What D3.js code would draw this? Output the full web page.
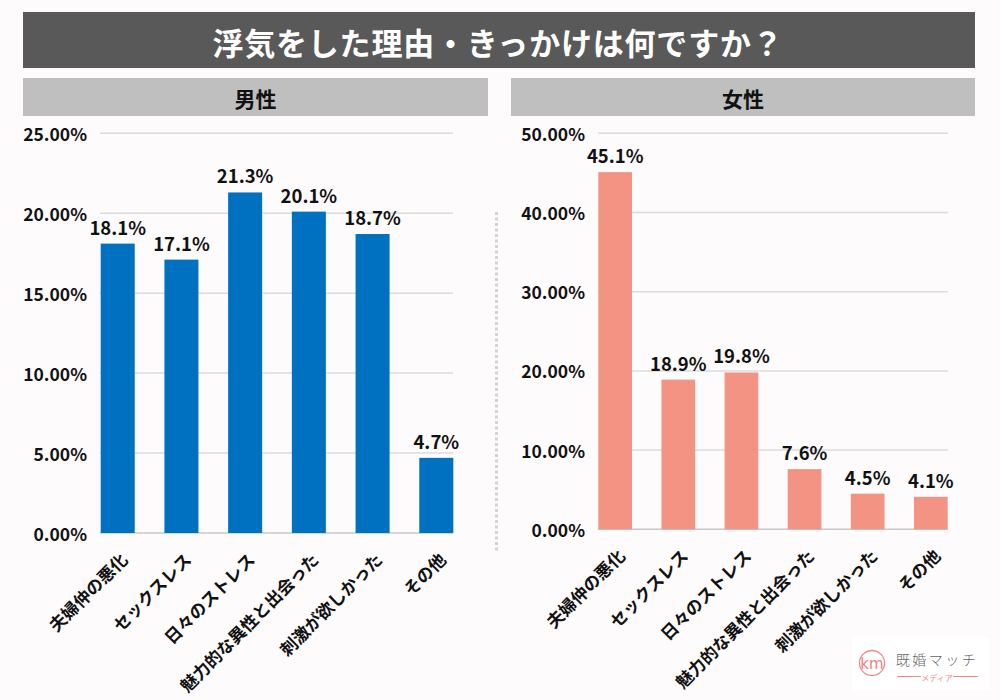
<!DOCTYPE html>
<html><head><meta charset="utf-8">
<script src="https://cdn.jsdelivr.net/npm/d3@7"></script>
<style>html,body{margin:0;padding:0;background:#fdfbfc;} svg{display:block;}</style>
</head><body>
<script>
const title = "浮気をした理由・きっかけは何ですか？";
const panelTitles = ["男性", "女性"];
const categories = ["夫婦仲の悪化","セックスレス","日々のストレス","魅力的な異性と出会った","刺激が欲しかった","その他"];
const maleValues = [18.1, 17.1, 21.3, 20.1, 18.7, 4.7];
const femaleValues = [45.1, 18.9, 19.8, 7.6, 4.5, 4.1];
const maleTicks = [0, 5, 10, 15, 20, 25];
const femaleTicks = [0, 10, 20, 30, 40, 50];

const W = 1000, H = 700;
const FONT = "'Noto Sans CJK JP','Noto Sans',sans-serif";
const svg = d3.select("body").append("svg").attr("width", W).attr("height", H)
  .style("font-family", FONT);
svg.append("rect").attr("width", W).attr("height", H).attr("fill", "#fdfbfc");

// Title bar
svg.append("rect").attr("x", 23).attr("y", 12).attr("width", 952).attr("height", 56).attr("fill", "#595959");
svg.append("text").attr("x", 498).attr("y", 41).attr("text-anchor", "middle")
  .attr("dominant-baseline", "central").attr("fill", "#fff")
  .attr("font-size", 31).attr("font-weight", 700).attr("letter-spacing", 0.8).text(title);

// Panel headers
const headers = [{x: 23, w: 465}, {x: 511, w: 464}];
headers.forEach((h, i) => {
  svg.append("rect").attr("x", h.x).attr("y", 78).attr("width", h.w).attr("height", 38).attr("fill", "#bfbfbf");
  svg.append("text").attr("x", h.x + h.w / 2).attr("y", 98).attr("text-anchor", "middle")
    .attr("dominant-baseline", "central").attr("fill", "#111")
    .attr("font-size", 21).attr("font-weight", 700).text(panelTitles[i]);
});

// Separator dotted line
svg.append("line").attr("x1", 496.5).attr("x2", 496.5).attr("y1", 212).attr("y2", 552)
  .attr("stroke", "#d3d3d3").attr("stroke-width", 3).attr("stroke-dasharray", "3 2.5");

function drawChart(cfg) {
  const g = svg.append("g");
  const x = d3.scaleBand().domain(categories).range(cfg.xRange)
    .paddingInner(0.466).paddingOuter(0.233);
  const y = d3.scaleLinear().domain([0, cfg.max]).range([cfg.y0, cfg.yTop]);

  // gridlines
  g.selectAll(".grid").data(cfg.ticks).join("line")
    .attr("x1", cfg.gridX[0]).attr("x2", cfg.gridX[1])
    .attr("y1", d => y(d)).attr("y2", d => y(d))
    .attr("stroke", d => d === 0 ? "#c8c8c8" : "#dcdcdc").attr("stroke-width", 1.5);

  // y tick labels
  g.selectAll(".yt").data(cfg.ticks).join("text")
    .attr("x", cfg.tickX).attr("y", d => y(d)).attr("text-anchor", "end")
    .attr("dominant-baseline", "central").attr("font-size", 17.5).attr("font-weight", 700)
    .attr("fill", "#111").text(d => d.toFixed(2) + "%");

  // bars
  g.selectAll(".bar").data(cfg.values).join("rect")
    .attr("x", (d, i) => x(categories[i])).attr("width", x.bandwidth())
    .attr("y", d => y(d)).attr("height", d => y(0) - y(d))
    .attr("fill", cfg.color);

  // value labels
  g.selectAll(".vl").data(cfg.values).join("text")
    .attr("x", (d, i) => x(categories[i]) + x.bandwidth() / 2)
    .attr("y", d => y(d) - 9).attr("text-anchor", "middle")
    .attr("font-size", 18.5).attr("font-weight", 700).attr("fill", "#111")
    .text(d => d.toFixed(1) + "%");

  // x labels
  g.selectAll(".xl").data(categories).join("text")
    .attr("transform", d => `translate(${x(d) + x.bandwidth() / 2 + 11},${cfg.y0 + 28}) rotate(-45)`)
    .attr("text-anchor", "end").attr("font-size", 17).attr("font-weight", 700)
    .attr("fill", "#111").text(d => d);
}

drawChart({values: maleValues, ticks: maleTicks, max: 25, xRange: [85.85, 468.15],
  gridX: [100, 453], y0: 533, yTop: 133.3, tickX: 87, color: "#0070c0"});
drawChart({values: femaleValues, ticks: femaleTicks, max: 50, xRange: [583.6, 962.4],
  gridX: [598, 948], y0: 529.3, yTop: 133.3, tickX: 585, color: "#f39383"});

// Logo
const logo = svg.append("g");
logo.append("rect").attr("x", 852).attr("y", 637).attr("width", 138).attr("height", 53).attr("fill", "#ffffff");
logo.append("circle").attr("cx", 872).attr("cy", 663).attr("r", 12.5)
  .attr("fill", "none").attr("stroke", "#f08a8a").attr("stroke-width", 1.3);
logo.append("text").attr("x", 872).attr("y", 664).attr("text-anchor", "middle")
  .attr("dominant-baseline", "central").attr("font-size", 15).attr("fill", "#f07f84")
  .attr("font-family", "'DejaVu Sans',sans-serif").text("km");
logo.append("text").attr("x", 937).attr("y", 659).attr("text-anchor", "middle")
  .attr("dominant-baseline", "central").attr("font-size", 14).attr("fill", "#666")
  .attr("font-weight", 300).attr("letter-spacing", 2.5).text("既婚マッチ");
logo.append("line").attr("x1", 897).attr("x2", 921).attr("y1", 676.5).attr("y2", 676.5).attr("stroke", "#f08a8a").attr("stroke-width", 1);
logo.append("line").attr("x1", 953).attr("x2", 978).attr("y1", 676.5).attr("y2", 676.5).attr("stroke", "#f08a8a").attr("stroke-width", 1);
logo.append("text").attr("x", 937).attr("y", 677).attr("text-anchor", "middle")
  .attr("dominant-baseline", "central").attr("font-size", 8).attr("fill", "#f08a8a")
  .text("メディア");
</script>
</body></html>
